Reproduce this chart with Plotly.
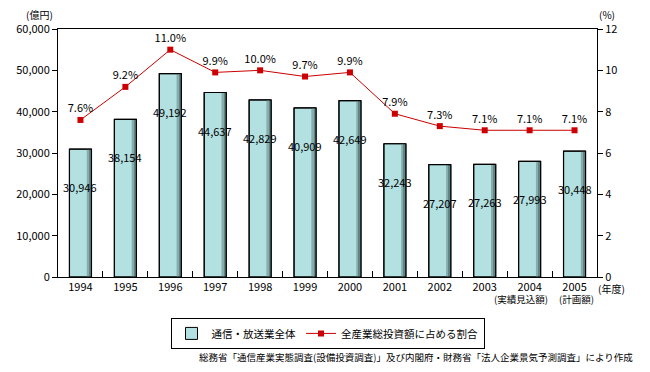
import plotly.graph_objects as go

years = ["1994", "1995", "1996", "1997", "1998", "1999", "2000", "2001", "2002", "2003", "2004", "2005"]
sub_labels = ["", "", "", "", "", "", "", "", "", "", "(実績見込額)", "(計画額)"]
invest = [30946, 38154, 49192, 44637, 42829, 40909, 42649, 32243, 27207, 27263, 27993, 30448]
ratio = [7.6, 9.2, 11.0, 9.9, 10.0, 9.7, 9.9, 7.9, 7.3, 7.1, 7.1, 7.1]

FONT = "Noto Sans CJK JP"
fig = go.Figure()

# main bars (legend entry)
fig.add_trace(go.Bar(
    x=years, y=invest, name="通信・放送業全体", width=0.49,
    marker=dict(color="#b3e1e1", line=dict(color="#000000", width=1)),
    hoverinfo="skip"))
# shading strips on right side of bars
fig.add_trace(go.Bar(
    x=years, y=invest, width=0.09, offset=0.14,
    marker=dict(color="#86acac", line=dict(width=0)),
    showlegend=False, hoverinfo="skip"))
fig.add_trace(go.Bar(
    x=years, y=invest, width=0.04, offset=0.2,
    marker=dict(color="#5f8686", line=dict(width=0)),
    showlegend=False, hoverinfo="skip"))
# outline on top
fig.add_trace(go.Bar(
    x=years, y=invest, width=0.49,
    marker=dict(color="rgba(0,0,0,0)", line=dict(color="#000000", width=1.2)),
    showlegend=False, hoverinfo="skip"))

fig.add_trace(go.Scatter(
    x=years, y=ratio, yaxis="y2", name="全産業総投資額に占める割合",
    mode="lines+markers+text",
    line=dict(color="#cc0000", width=1),
    marker=dict(symbol="square", size=6, color="#cc0000"),
    text=[f"{v:.1f}%" for v in ratio], textposition="top center",
    textfont=dict(family=FONT, size=11, color="#000")))

for i, v in enumerate(invest):
    fig.add_annotation(x=i, y=v, xref="x", yref="y", text=f"{v:,}", showarrow=False,
                       yanchor="middle", yshift=-38,
                       font=dict(family=FONT, size=11, color="#000"))

sub_shift = {10: -9, 11: 2}
for i, s in enumerate(sub_labels):
    if s:
        fig.add_annotation(x=i, y=0, xref="x", yref="paper", text=s, showarrow=False,
                           yanchor="middle", yshift=-22, xshift=sub_shift.get(i, 0),
                           font=dict(family=FONT, size=9.5, color="#000"))

fig.add_annotation(xref="paper", yref="paper", x=-0.035, y=1.0, xanchor="center", yanchor="middle", yshift=15,
                   text="(億円)", showarrow=False, font=dict(family=FONT, size=10, color="#000"))
fig.add_annotation(xref="paper", yref="paper", x=1.018, y=1.0, xanchor="center", yanchor="middle", yshift=15,
                   text="(%)", showarrow=False, font=dict(family=FONT, size=10, color="#000"))
fig.add_annotation(xref="paper", yref="paper", x=0.998, y=0, xanchor="left", yanchor="middle", yshift=-11,
                   text="(年度)", showarrow=False, font=dict(family=FONT, size=10, color="#000"))
fig.add_annotation(xref="paper", yref="paper", x=1.0705, y=0, xanchor="right", yanchor="middle", yshift=-80,
                   text="総務省「通信産業実態調査(設備投資調査)」及び内閣府・財務省「法人企業景気予測調査」により作成",
                   showarrow=False, font=dict(family=FONT, size=9.5, color="#000"))

fig.update_layout(
    width=650, height=372,
    margin=dict(l=58, r=53, t=29, b=95, autoexpand=False),
    paper_bgcolor="white", plot_bgcolor="white",
    barmode="overlay",
    font=dict(family=FONT, size=11, color="#000"),
    xaxis=dict(type="category", categoryorder="array", categoryarray=years,
               range=[-0.5, len(years) - 0.5], tickangle=0,
               tickson="boundaries", ticks="inside", ticklen=6, tickcolor="#000",
               showline=True, linecolor="#000", linewidth=1, mirror=True,
               showgrid=False, tickfont=dict(family=FONT, size=11)),
    yaxis=dict(range=[0, 60000], tickvals=list(range(0, 60001, 10000)), tickformat=",",
               ticks="outside", ticklen=5, tickcolor="#000", showline=True, linecolor="#000",
               linewidth=1, showgrid=False, zeroline=False, tickfont=dict(family=FONT, size=11)),
    yaxis2=dict(range=[0, 12], tickvals=list(range(0, 13, 2)), overlaying="y", side="right",
                ticks="outside", ticklen=5, tickcolor="#000", showline=True, linecolor="#000",
                linewidth=1, showgrid=False, zeroline=False, tickfont=dict(family=FONT, size=11)),
    legend=dict(orientation="h", x=0.5, xanchor="center", y=-0.165, yanchor="top",
                bordercolor="#000", borderwidth=1, font=dict(family=FONT, size=10.5),
                itemwidth=30, traceorder="normal"),
)

fig.write_html("out.html", config={"displayModeBar": False},
               post_script="document.body.style.margin='0px';")
